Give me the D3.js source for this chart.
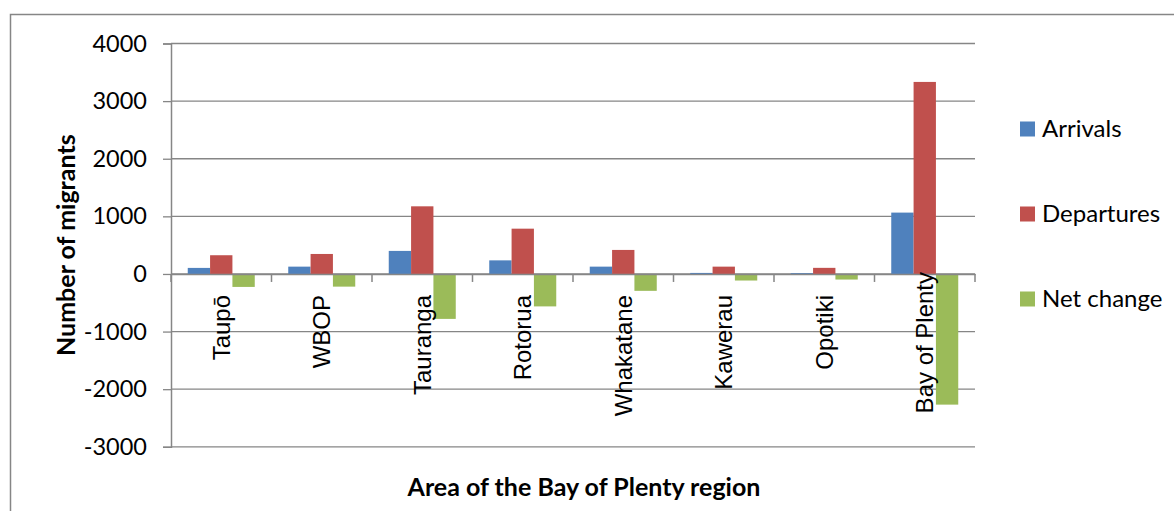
<!DOCTYPE html>
<html>
<head>
<meta charset="utf-8">
<script src="https://cdn.jsdelivr.net/npm/d3@7"></script>
<style>
  html, body { margin: 0; padding: 0; background: #fff; }
  svg { display: block; }
</style>
</head>
<body>
<svg id="chart" width="1174" height="511"></svg>
<script>
// Migration flows by area of the Bay of Plenty region
const areas = ["Taupō", "WBOP", "Tauranga", "Rotorua", "Whakatane", "Kawerau", "Opotiki", "Bay of Plenty"];
const arrivals = [105, 127, 400, 236, 127, 18, 14, 1065];
const departures = [325, 347, 1174, 786, 417, 127, 106, 3333];
const netChange = [-225, -220, -780, -563, -293, -114, -97, -2268];
const seriesNames = ["Arrivals", "Departures", "Net change"];
const yTicks = [4000, 3000, 2000, 1000, 0, -1000, -2000, -3000];

const colors = ["#4F81BD", "#C0504D", "#9BBB59"];
const gridColor = "#868686";
const numFont = "Lato, 'Open Sans', sans-serif";
const catFont = "'Liberation Sans', Arial, sans-serif";

const svg = d3.select("#chart");

// outer chart frame
svg.append("rect")
  .attr("x", 10.5).attr("y", 14.5)
  .attr("width", 1300).attr("height", 600)
  .attr("fill", "none").attr("stroke", gridColor).attr("stroke-width", 1.5);

const plot = { left: 171, right: 975, top: 43.5, bottom: 446.8 };

const x = d3.scaleBand().domain(areas).range([plot.left, plot.right]).paddingInner(0).paddingOuter(0);
const y = d3.scaleLinear().domain([-3000, 4000]).range([plot.bottom, plot.top]);

// series within each group: gap width 150% of a bar
const barW = x.bandwidth() / 4.5;
const xs = d3.scaleBand().domain(seriesNames).range([0.75 * barW, 3.75 * barW]).padding(0);

// horizontal gridlines
svg.append("g").selectAll("line").data(yTicks).join("line")
  .attr("x1", plot.left).attr("x2", plot.right)
  .attr("y1", d => y(d)).attr("y2", d => y(d))
  .attr("stroke", gridColor).attr("stroke-width", 1.3);

// y axis (plain hyphen for negatives)
const yAxis = d3.axisLeft(y).tickValues(yTicks).tickSize(8).tickPadding(16).tickFormat(d => String(d));
const gy = svg.append("g").attr("transform", `translate(${plot.left},0)`).call(yAxis);
gy.select(".domain").attr("stroke", gridColor).attr("stroke-width", 1.5);
gy.selectAll(".tick line").attr("stroke", gridColor).attr("stroke-width", 1.3);
gy.selectAll(".tick text")
  .attr("font-family", numFont).attr("font-size", 23.5).attr("fill", "#000");

// bars
const rows = areas.map((a, i) => ({ area: a, values: [arrivals[i], departures[i], netChange[i]] }));
const groups = svg.append("g").selectAll("g").data(rows).join("g")
  .attr("transform", d => `translate(${x(d.area)},0)`);
groups.selectAll("rect")
  .data(d => d.values.map((v, k) => ({ name: seriesNames[k], value: v, k })))
  .join("rect")
  .attr("x", d => xs(d.name))
  .attr("width", xs.bandwidth())
  .attr("y", d => Math.min(y(d.value), y(0)))
  .attr("height", d => Math.abs(y(d.value) - y(0)))
  .attr("fill", d => colors[d.k]);

// category axis at zero
const xAxis = d3.axisBottom(x).tickSize(0).tickFormat("");
const gx = svg.append("g").attr("transform", `translate(0,${y(0)})`).call(xAxis);
gx.select(".domain").attr("stroke", gridColor).attr("stroke-width", 1.5);
// tick marks between categories
const bounds = areas.map(a => x(a)).concat([plot.right]);
svg.append("g").selectAll("line").data(bounds).join("line")
  .attr("x1", d => d).attr("x2", d => d)
  .attr("y1", y(0)).attr("y2", y(0) + 8)
  .attr("stroke", gridColor).attr("stroke-width", 1.5);

// rotated category labels
const totalLabelLift = 23;
svg.append("g").selectAll("text").data(areas).join("text")
  .attr("transform", (d, i) => {
    const top = y(0) + 21 - (i === areas.length - 1 ? totalLabelLift : 0);
    return `translate(${x(d) + x.bandwidth() / 2},${top}) rotate(-90)`;
  })
  .attr("text-anchor", "end")
  .attr("dy", "0.35em")
  .attr("font-family", catFont).attr("font-size", 24).attr("fill", "#000")
  .text(d => d);

// axis titles
svg.append("text")
  .attr("transform", `translate(66,${(plot.top + plot.bottom) / 2}) rotate(-90)`)
  .attr("text-anchor", "middle").attr("dy", "0.35em")
  .attr("font-family", numFont).attr("font-weight", "bold").attr("font-size", 25)
  .attr("fill", "#000")
  .text("Number of migrants");

svg.append("text")
  .attr("x", 584).attr("y", 487)
  .attr("text-anchor", "middle").attr("dy", "0.35em")
  .attr("font-family", numFont).attr("font-weight", "bold").attr("font-size", 25)
  .attr("fill", "#000")
  .text("Area of the Bay of Plenty region");

// legend
const legend = svg.append("g").selectAll("g").data(seriesNames).join("g")
  .attr("transform", (d, i) => `translate(1020,${129 + i * 85})`);
legend.append("rect")
  .attr("x", 0).attr("y", -7.5).attr("width", 15).attr("height", 15)
  .attr("fill", (d, i) => colors[i]);
legend.append("text")
  .attr("x", 22).attr("dy", "0.35em")
  .attr("font-family", numFont).attr("font-size", 24).attr("fill", "#000")
  .text(d => d);
</script>
</body>
</html>
